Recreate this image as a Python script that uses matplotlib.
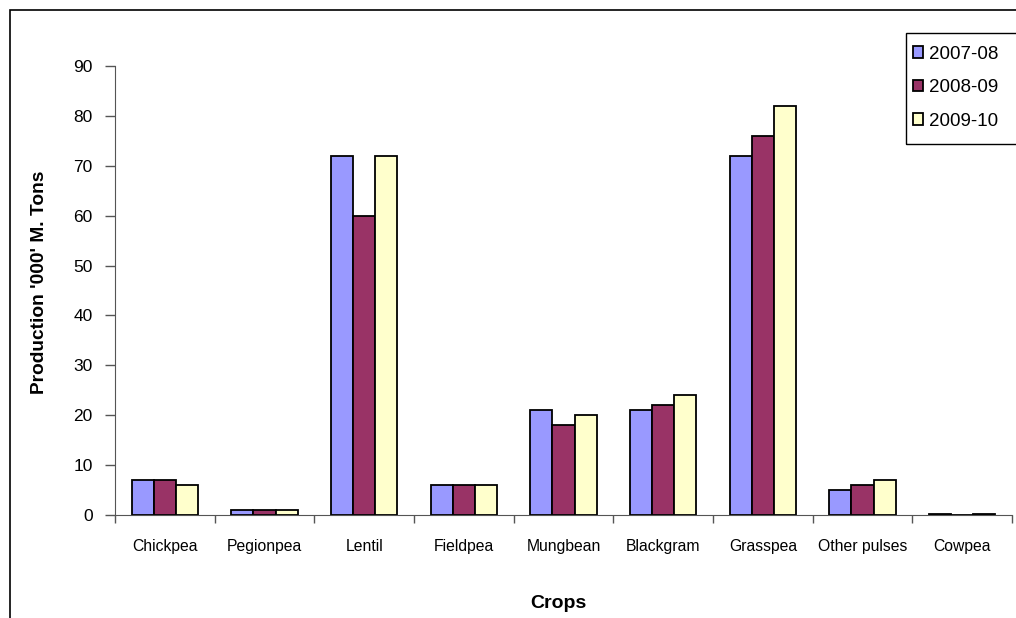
import numpy as np
import matplotlib
matplotlib.use("Agg")
import matplotlib.pyplot as plt
from matplotlib.patches import Rectangle

crops = ["Chickpea", "Pegionpea", "Lentil", "Fieldpea", "Mungbean",
         "Blackgram", "Grasspea", "Other pulses", "Cowpea"]
prod_2007 = [7, 1, 72, 6, 21, 21, 72, 5, 0.3]
prod_2008 = [7, 1, 60, 6, 18, 22, 76, 6, 0]
prod_2009 = [6, 1, 72, 6, 20, 24, 82, 7, 0.3]
years = ["2007-08", "2008-09", "2009-10"]
colors = ["#9999FF", "#993366", "#FFFFCC"]

plt.rcParams["font.family"] = ["Liberation Sans", "DejaVu Sans"]

W, H = 1016, 618
fig = plt.figure(figsize=(W / 100, H / 100), dpi=100)
ax = fig.add_axes([115 / W, 1 - 515 / H, (1012 - 115) / W, (515 - 66) / H])

# outer chart frame (cut off at right and bottom)
fig.patches.append(Rectangle((10 / W, -0.1), 1.2, 1 - 10 / H + 0.1,
                             transform=fig.transFigure, fill=False,
                             edgecolor="black", linewidth=1.2, zorder=0))

x = np.arange(len(crops))
bw = 1 / 4.5
for k, vals in enumerate([prod_2007, prod_2008, prod_2009]):
    xs = x + (k - 1) * bw
    ax.bar(xs, vals, width=bw, color=colors[k], edgecolor="black",
           linewidth=1.3, label=years[k])

ax.set_xlim(-0.5, len(crops) - 0.5)
ax.set_ylim(0, 90)
ax.set_yticks(range(0, 91, 10))
ax.tick_params(axis="y", labelsize=12.5, length=7, direction="out", width=1,
               pad=9, color="#555555")
ax.set_xticks(np.arange(-0.5, len(crops), 1))
ax.set_xticklabels([])
ax.tick_params(axis="x", length=6, direction="out", width=1, color="#555555")
for i, c in enumerate(crops):
    ax.text(i, -6.4, c, ha="center", va="center", fontsize=11.3)

for s in ["top", "right"]:
    ax.spines[s].set_visible(False)
ax.spines["left"].set_color("#555555")
ax.spines["bottom"].set_color("#555555")

fig.text(40 / W, 1 - 282 / H, "Production '000' M. Tons", rotation=90,
         ha="center", va="center", fontsize=13.8, fontweight="bold")
fig.text(558 / W, 1 - 603 / H, "Crops", ha="center", va="center",
         fontsize=14, fontweight="bold")

# legend box runs past the right edge of the picture
fig.patches.append(Rectangle((906 / W, 1 - 144 / H), 0.2, 111 / H,
                             transform=fig.transFigure, fill=False,
                             edgecolor="black", linewidth=1.0, zorder=3))
leg = fig.legend(loc="upper left", bbox_to_anchor=(907 / W, 1 - 40 / H),
                 frameon=False, fontsize=13.5,
                 handlelength=0.55, handleheight=0.55, handletextpad=0.3,
                 labelspacing=0.88, borderpad=0.3, borderaxespad=0)

fig.savefig("out.png", dpi=100)
